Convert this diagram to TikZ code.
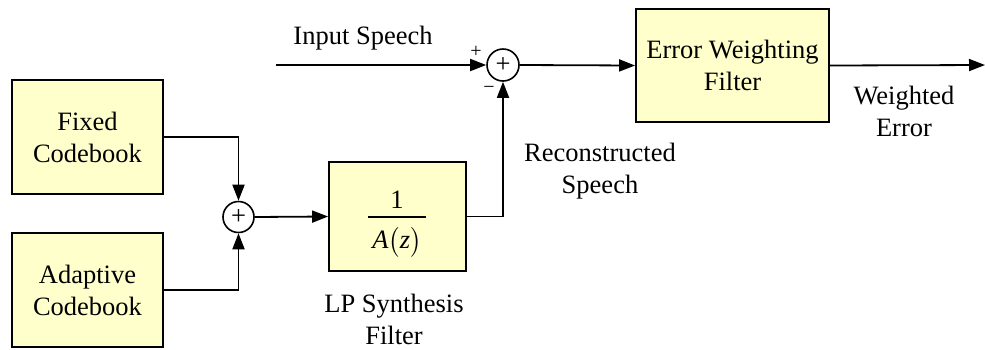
\documentclass[tikz,border=0pt]{standalone}
\usepackage{amsmath}
\usepackage{fontspec}
\setmainfont{Liberation Serif}
\newfontfamily\tnr{Liberation Serif}
\usetikzlibrary{arrows.meta}
\definecolor{boxfill}{HTML}{FFFFCC}
\tikzset{
  blk/.style={draw=black, line width=1.8pt, fill=boxfill, align=center,
    inner sep=0pt},
  summer/.style={draw=black, circle, line width=1.6pt, minimum size=31pt,
    inner sep=0pt, fill=white},
  sig/.style={line width=1.8pt, -{Triangle[length=16pt,width=12pt]}},
  lbl/.style={align=center, inner sep=0pt},
  sgn/.style={inner sep=0pt, font=\tnr\fontsize{20}{20}\selectfont}
}
\begin{document}
\begin{tikzpicture}[x=1pt,y=-1pt,
  every node/.append style={font=\tnr\fontsize{26.5}{32}\selectfont}]
\useasboundingbox (0,0) rectangle (985,349);

% blocks
\node[blk, minimum width=151pt, minimum height=114pt] (fixed) at (87.5,137) {Fixed\\Codebook};
\node[blk, minimum width=151pt, minimum height=114pt] (adapt) at (87.5,290) {Adaptive\\Codebook};
\node[blk, minimum width=137pt, minimum height=109pt] (lp) at (397.5,216.5) {};
\node[blk, minimum width=193pt, minimum height=113pt] (ewf) at (732.5,65.5) {Error Weighting\\Filter};

% transfer function 1/A(z) inside the synthesis filter
\node[lbl, text depth=0pt, anchor=base] (num) at (397,208) {1};
\node[lbl] (den) at (397,242) {\textit{A}$\bigl($\textit{z}$\bigr)$};
\draw[line width=1.3pt] (368,217) -- (426,217);

% summing junctions
\node[summer] (sum1) at (238.5,217) {+};
\node[summer, minimum size=32pt] (sum2) at (503,65) {+};

% free ends
\coordinate (in) at (276,65);
\coordinate (out) at (985,65);

% signal paths
\draw[sig] (fixed.east) -| (sum1.north);
\draw[sig] (adapt.east) -| (sum1.south);
\draw[sig] (sum1.east) -- (lp.west);
\draw[sig] (lp.east) -| (sum2.south);
\draw[sig] (in) -- (sum2.west);
\draw[sig] (sum2.east) -- (ewf.west);
\draw[sig] (ewf.east) -- (out);

% labels
\node[lbl] (lin) at (363,38) {Input Speech};
\node[sgn] (plus) at (476,52) {+};
\node[sgn] (minus) at (489,90) {−};
\node[lbl] (lrec) at (600,171) {Reconstructed\\Speech};
\node[lbl] (lwe) at (904,111) {Weighted\\Error};
\node[lbl] (llp) at (394,319) {LP Synthesis\\Filter};
\end{tikzpicture}
\end{document}
